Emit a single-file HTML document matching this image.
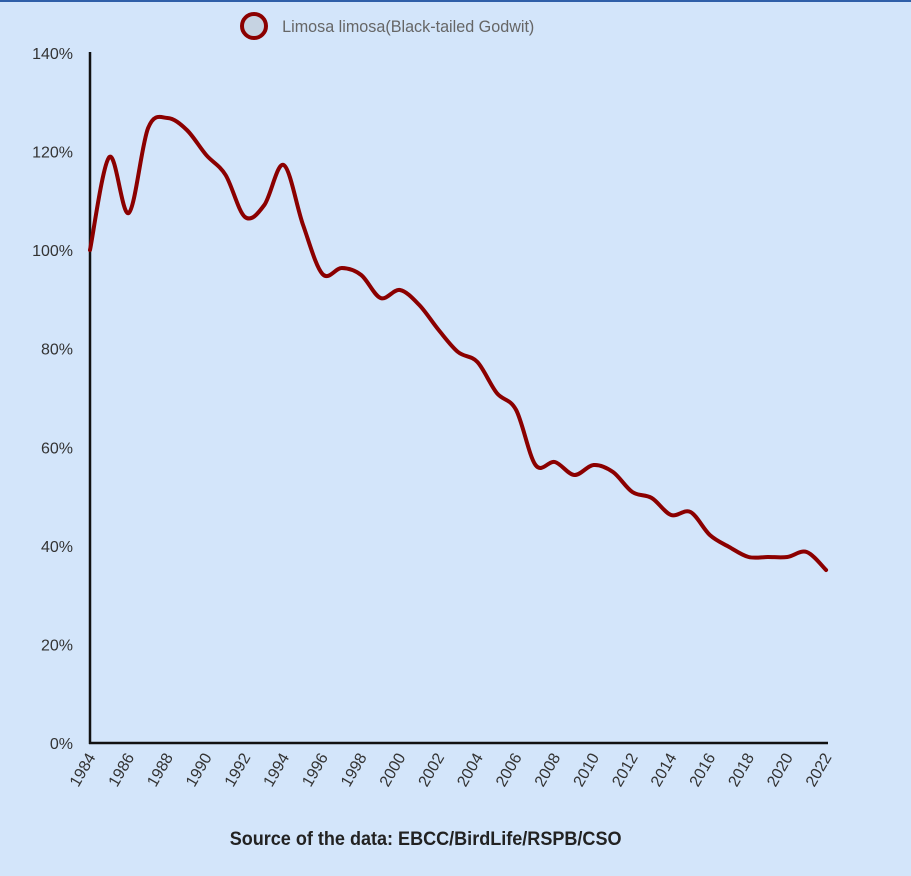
<!DOCTYPE html>
<html><head><meta charset="utf-8"><style>
html,body{margin:0;padding:0;width:911px;height:876px;overflow:hidden;background:#d3e5fa;}
svg{display:block}
</style></head><body>
<svg width="911" height="876" xmlns="http://www.w3.org/2000/svg" font-family="Liberation Sans, Arial, sans-serif">
<rect width="911" height="876" fill="#d3e5fa"/>
<rect width="911" height="2" fill="#2f5fa8"/>
<circle cx="254" cy="26" r="12" fill="#c6d3e2" stroke="#8b0000" stroke-width="4"/>
<text x="282" y="32" font-size="17" fill="#666" transform="scale(0.95,1) translate(15,0)">Limosa limosa(Black-tailed Godwit)</text>
<g font-size="16" fill="#333" text-anchor="end" id="yl"></g>
<line x1="90" y1="52" x2="90" y2="744" stroke="#111" stroke-width="2.5"/>
<line x1="89" y1="743" x2="828" y2="743" stroke="#111" stroke-width="2.5"/>
<g font-size="16" fill="#333" id="xl"></g>
<path id="ln" fill="none" stroke="#8b0000" stroke-width="4" stroke-linejoin="round" stroke-linecap="round"/>
<text x="426" y="845" font-size="19" font-weight="bold" fill="#222" text-anchor="middle" transform="scale(0.95,1) translate(22,0)">Source of the data: EBCC/BirdLife/RSPB/CSO</text>
</svg>
<script>
var NS="http://www.w3.org/2000/svg";
var yl=document.getElementById('yl');
for(var i=0;i<=7;i++){var t=document.createElementNS(NS,'text');t.setAttribute('x',73);t.setAttribute('y',743-i*98.57+6);t.textContent=(i*20)+'%';yl.appendChild(t);}
var xl=document.getElementById('xl');
function X(y){return 90+(y-1984)*19.37;}
for(var y=1984;y<=2022;y+=2){var t=document.createElementNS(NS,'text');var x=X(y)+6,yy=757;t.setAttribute('text-anchor','end');t.setAttribute('transform','translate('+x+','+yy+') rotate(-60)');t.setAttribute('x',0);t.setAttribute('y',0);t.textContent=y;xl.appendChild(t);}
var ys=[250,157,213,128,118,130,155,175,217,205,165,225,274,268,275,298,290,305,330,352,362,393,410,465,462,475,465,472,492,498,515,512,535,547,557,557,557,552,570];
var p=ys.map(function(v,i){return [X(1984+i),v];});
var d='M'+p[0][0]+','+p[0][1];
for(var i=0;i<p.length-1;i++){var p0=p[i-1]||p[i],p1=p[i],p2=p[i+1],p3=p[i+2]||p2;
d+=' C'+(p1[0]+(p2[0]-p0[0])/6)+','+(p1[1]+(p2[1]-p0[1])/6)+' '+(p2[0]-(p3[0]-p1[0])/6)+','+(p2[1]-(p3[1]-p1[1])/6)+' '+p2[0]+','+p2[1];}
document.getElementById('ln').setAttribute('d',d);
</script>
</body></html>
